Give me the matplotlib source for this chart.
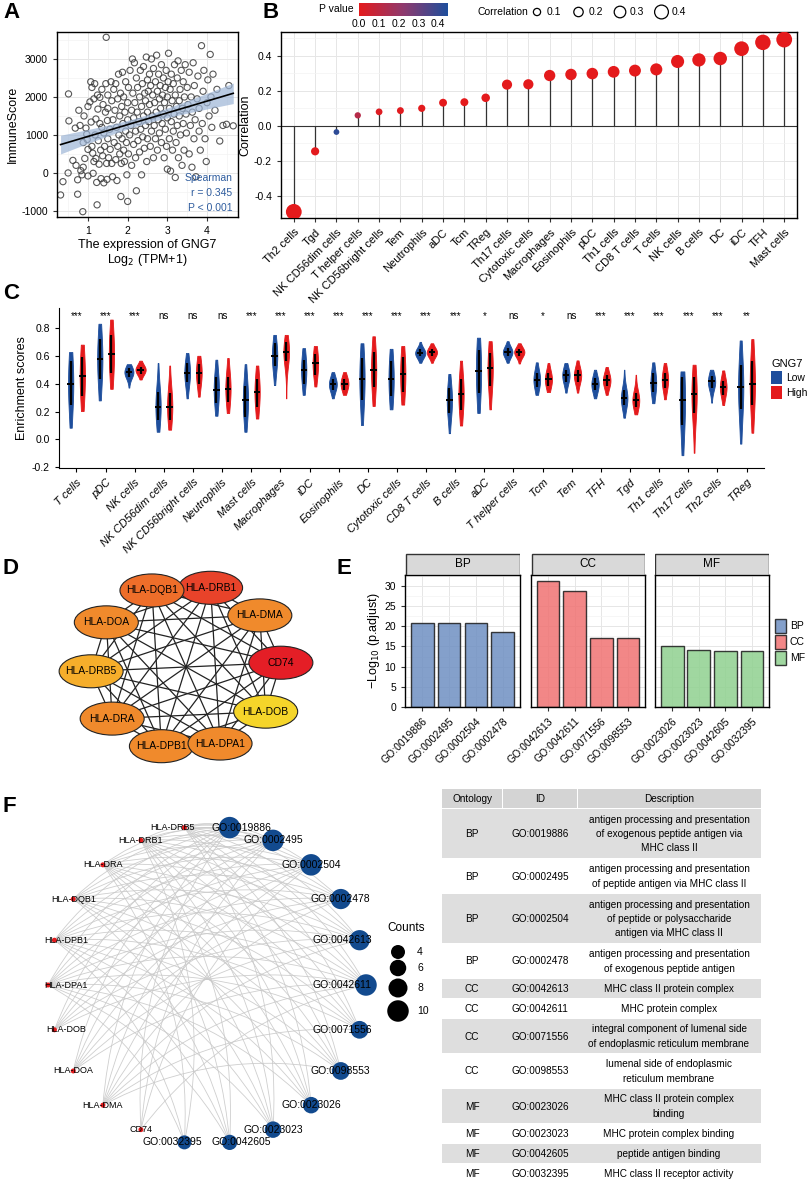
import numpy as np
import matplotlib.pyplot as plt
from matplotlib.colors import LinearSegmentedColormap
from matplotlib.patches import Ellipse, Rectangle, Patch, PathPatch
from matplotlib.path import Path

plt.rcParams['font.family'] = ['Liberation Sans', 'DejaVu Sans']
plt.rcParams['axes.unicode_minus'] = False
plt.rcParams['font.size'] = 7.5

W, H = 809, 1180

# ---------------- data ----------------
# A: GNG7 expression vs ImmuneScore
a_points = [
    (0.31, -580), (0.37, -230), (0.50, 0), (0.51, 2080), (0.52, 1370), (0.62, 330), (0.68, 1180),
    (0.70, 200), (0.74, -180), (0.74, -560), (0.77, 1650), (0.80, 1250), (0.82, 60), (0.85, -50),
    (0.87, -1020), (0.88, 800), (0.88, 150), (0.90, 1500), (0.92, 380), (0.95, 1180), (0.97, 1020),
    (0.98, 880), (1.00, 620), (1.00, -80), (1.00, 1750),
    (1.05, 1870), (1.07, 2400), (1.08, 1340), (1.10, 2250), (1.10, 700), (1.12, 520), (1.13, -10),
    (1.15, 1950), (1.15, 300), (1.17, 2350), (1.18, 1000), (1.20, 1420), (1.20, 380), (1.22, -250),
    (1.23, -840), (1.24, 2050), (1.25, 1680), (1.26, 850), (1.28, 230), (1.30, 1300), (1.30, 1990),
    (1.32, 600), (1.33, -150), (1.35, 1200), (1.35, 2200), (1.37, 450), (1.38, 1800), (1.40, -260),
    (1.40, 1050), (1.42, 700), (1.44, 1600), (1.45, 2350), (1.46, 3570), (1.47, 250), (1.48, -170),
    (1.49, 1380), (1.50, 900), (1.50, 2050), (1.50, 1700), (1.52, 400),
    (1.55, 1150), (1.56, 620), (1.58, 2400), (1.60, 1900), (1.60, 250), (1.62, -100), (1.63, 1400),
    (1.65, 2200), (1.66, 800), (1.68, 1650), (1.70, 350), (1.70, 2350), (1.72, 1200), (1.73, -200),
    (1.75, 1950), (1.75, 700), (1.77, 2600), (1.78, 1000), (1.80, 500), (1.80, 1500), (1.82, 2100),
    (1.83, -620), (1.84, 250), (1.85, 1750), (1.86, 900), (1.87, 2650), (1.88, 1300), (1.90, 600),
    (1.90, 2000), (1.92, 300), (1.93, 1600), (1.95, 1100), (1.95, 2400), (1.97, 800), (1.98, -50),
    (2.00, 1400), (2.00, -750), (2.00, 1850), (2.02, 2250), (2.02, 500),
    (2.05, 1000), (2.06, 2700), (2.08, 1250), (2.10, 1650), (2.10, 200), (2.12, 3000), (2.13, 2100),
    (2.15, 750), (2.15, 1450), (2.17, 2900), (2.18, 1850), (2.20, 400), (2.20, 1100), (2.22, -470),
    (2.22, 2500), (2.24, 1600), (2.25, 2250), (2.26, 850), (2.28, 1350), (2.30, 2000), (2.30, 550),
    (2.32, 2700), (2.33, 1150), (2.35, 1750), (2.35, -50), (2.37, 2350), (2.38, 950), (2.40, 1500),
    (2.40, 2800), (2.42, 650), (2.43, 2100), (2.45, 1250), (2.45, 1900), (2.47, 3050), (2.48, 300),
    (2.50, 1600), (2.50, 2450), (2.50, 900), (2.52, 2150), (2.53, 1350),
    (2.55, 1800), (2.55, 2600), (2.57, 700), (2.58, 2300), (2.60, 1100), (2.60, 3000), (2.62, 1500),
    (2.63, 2050), (2.65, 400), (2.65, 2750), (2.67, 1250), (2.68, 1850), (2.70, 2400), (2.70, 900),
    (2.72, 1600), (2.73, 3100), (2.75, 2150), (2.75, 600), (2.77, 1400), (2.78, 2600), (2.80, 1950),
    (2.80, 1050), (2.82, 2300), (2.83, 1700), (2.85, 2850), (2.85, 800), (2.87, 1300), (2.88, 2050),
    (2.90, 1550), (2.90, 2500), (2.92, 400), (2.93, 1850), (2.95, 1150), (2.95, 2250), (2.97, 2700),
    (2.98, 700), (3.00, 1450), (3.00, 2000), (3.00, 100), (3.02, 2400),
    (3.03, 3150), (3.05, 1700), (3.05, 900), (3.07, 2200), (3.08, 50), (3.10, 1350), (3.10, 2600),
    (3.12, 1900), (3.13, 600), (3.15, 2350), (3.15, 1100), (3.17, 1550), (3.18, 2850), (3.20, -120),
    (3.20, 2050), (3.22, 800), (3.23, 1750), (3.25, 2500), (3.25, 1250), (3.27, 2950), (3.28, 400),
    (3.30, 1900), (3.30, 1500), (3.32, 2200), (3.33, 1000), (3.35, 2700), (3.37, 200), (3.38, 1700),
    (3.40, 2400), (3.40, 1300), (3.42, 600), (3.43, 2000), (3.45, 2850), (3.47, 1550), (3.48, 1050),
    (3.50, 2250),
    (3.52, 1800), (3.55, 500), (3.55, 2650), (3.58, 1250), (3.60, 2000), (3.62, 150), (3.63, 1600),
    (3.65, 2900), (3.67, 900), (3.68, 2300), (3.70, 1400), (3.72, -100), (3.75, 1950), (3.77, 2550),
    (3.80, 1100), (3.80, 1700), (3.83, 600), (3.86, 3350), (3.88, 1300), (3.90, 2150), (3.92, 2700),
    (3.95, 900), (3.98, 300), (4.00, 1850), (4.02, 2450), (4.05, 1500), (4.08, 3120), (4.10, 2000),
    (4.12, 1200), (4.15, 2600), (4.20, 1650), (4.25, 2200), (4.32, 840), (4.40, 1250), (4.49, 1280),
    (4.55, 2300), (4.66, 1240),
]

# B: lollipop of correlations
b_cells = ['Th2 cells', 'Tgd', 'NK CD56dim cells', 'T helper cells', 'NK CD56bright cells', 'Tem',
           'Neutrophils', 'aDC', 'Tcm', 'TReg', 'Th17 cells', 'Cytotoxic cells', 'Macrophages',
           'Eosinophils', 'pDC', 'Th1 cells', 'CD8 T cells', 'T cells', 'NK cells', 'B cells', 'DC',
           'iDC', 'TFH', 'Mast cells']
b_corr = [-0.49, -0.145, -0.035, 0.06, 0.08, 0.087, 0.10, 0.132, 0.135, 0.16, 0.235, 0.237, 0.287,
          0.293, 0.298, 0.308, 0.315, 0.322, 0.367, 0.376, 0.384, 0.44, 0.476, 0.492]
b_pval = [0.0, 0.002, 0.42, 0.12, 0.02, 0.01, 0.005, 0.0, 0.0, 0.0, 0.0, 0.0, 0.0, 0.0, 0.0, 0.0,
          0.0, 0.0, 0.0, 0.0, 0.0, 0.0, 0.0, 0.0]

# C: enrichment scores by GNG7 group (min, q1, median, q3, max)
c_cells = ['T cells', 'pDC', 'NK cells', 'NK CD56dim cells', 'NK CD56bright cells', 'Neutrophils',
           'Mast cells', 'Macrophages', 'iDC', 'Eosinophils', 'DC', 'Cytotoxic cells', 'CD8 T cells',
           'B cells', 'aDC', 'T helper cells', 'Tcm', 'Tem', 'TFH', 'Tgd', 'Th1 cells', 'Th17 cells',
           'Th2 cells', 'TReg']
c_signif = ['***', '***', '***', 'ns', 'ns', 'ns', '***', '***', '***', '***', '***', '***', '***',
            '***', '*', 'ns', '*', 'ns', '***', '***', '***', '***', '***', '**']
low_min = [.084, .28, .372, .055, .295, .17, .055, .39, .32, .295, .103, .216, .55, .045, .19, .55,
           .32, .336, .295, .156, .26, -.113, .264, -.03]
low_q1 = [.25, .435, .45, .14, .41, .26, .16, .53, .40, .355, .28, .31, .60, .19, .33, .60, .375, .415,
          .355, .25, .34, .10, .37, .22]
low_med = [.40, .577, .483, .235, .48, .358, .28, .60, .50, .396, .435, .435, .62, .28, .49, .627,
           .428, .46, .396, .295, .404, .28, .416, .375]
low_q3 = [.56, .72, .51, .34, .55, .45, .38, .69, .57, .43, .585, .56, .65, .37, .645, .655, .475, .50,
          .44, .355, .475, .45, .455, .535]
low_max = [.627, .83, .54, .548, .62, .572, .54, .75, .655, .483, .69, .65, .70, .47, .73, .705, .553,
           .548, .50, .50, .553, .488, .50, .71]
high_min = [.204, .363, .43, .07, .307, .19, .15, .295, .38, .32, .24, .25, .55, .10, .216, .545, .34,
            .336, .32, .18, .288, -.096, .247, .048]
high_q1 = [.31, .48, .47, .14, .40, .265, .235, .56, .46, .355, .375, .34, .60, .21, .38, .60, .385,
           .415, .385, .235, .37, .19, .32, .25]
high_med = [.454, .615, .50, .235, .48, .363, .34, .63, .545, .40, .50, .468, .625, .325, .51, .627,
            .43, .46, .423, .28, .428, .325, .375, .40]
high_q3 = [.59, .75, .52, .33, .54, .445, .43, .70, .61, .43, .63, .59, .65, .43, .62, .65, .475, .50,
           .465, .33, .48, .45, .42, .56]
high_max = [.68, .86, .565, .53, .60, .584, .53, .75, .67, .483, .74, .67, .69, .565, .705, .69, .548,
            .567, .52, .464, .548, .536, .495, .72]

# D: PPI network
d_genes = ['CD74', 'HLA-DMA', 'HLA-DRB1', 'HLA-DQB1', 'HLA-DOA', 'HLA-DRB5', 'HLA-DRA', 'HLA-DPB1',
           'HLA-DPA1', 'HLA-DOB']
d_colors = ['#E41E26', '#F08A2C', '#E8432A', '#EE6E2A', '#F08A2C', '#F6AE2B', '#F08A2C', '#F08A2C',
            '#F08A2C', '#F5D52A']

# E: GO enrichment
e_ont = ['BP', 'CC', 'MF']
e_ids = [['GO:0019886', 'GO:0002495', 'GO:0002504', 'GO:0002478'],
         ['GO:0042613', 'GO:0042611', 'GO:0071556', 'GO:0098553'],
         ['GO:0023026', 'GO:0023023', 'GO:0042605', 'GO:0032395']]
e_logp = [[20.9, 20.9, 20.9, 18.6],
          [31.1, 28.7, 17.2, 17.2],
          [15.2, 14.2, 13.8, 13.8]]
e_colors = ['#6E8FC2', '#F07272', '#8FD18F']

# F: gene-GO network + table
f_go = ['GO:0019886', 'GO:0002495', 'GO:0002504', 'GO:0002478', 'GO:0042613', 'GO:0042611',
        'GO:0071556', 'GO:0098553', 'GO:0023026', 'GO:0023023', 'GO:0042605', 'GO:0032395']
f_counts = [10, 10, 10, 9, 9, 10, 7, 7, 6, 6, 5, 4]
f_gene_rank = ['HLA-DRA', 'HLA-DRB1', 'HLA-DPA1', 'HLA-DPB1', 'HLA-DQB1', 'HLA-DRB5', 'HLA-DMA',
               'HLA-DOA', 'HLA-DOB', 'CD74']
gene_ring = ['CD74', 'HLA-DMA', 'HLA-DOA', 'HLA-DOB', 'HLA-DPA1', 'HLA-DPB1', 'HLA-DQB1', 'HLA-DRA',
             'HLA-DRB1', 'HLA-DRB5']
t_ont = ['BP', 'BP', 'BP', 'BP', 'CC', 'CC', 'CC', 'CC', 'MF', 'MF', 'MF', 'MF']
t_desc = ['antigen processing and presentation\nof exogenous peptide antigen via\nMHC class II',
          'antigen processing and presentation\nof peptide antigen via MHC class II',
          'antigen processing and presentation\nof peptide or polysaccharide\nantigen via MHC class II',
          'antigen processing and presentation\nof exogenous peptide antigen',
          'MHC class II protein complex',
          'MHC protein complex',
          'integral component of lumenal side\nof endoplasmic reticulum membrane',
          'lumenal side of endoplasmic\nreticulum membrane',
          'MHC class II protein complex\nbinding',
          'MHC protein complex binding',
          'peptide antigen binding',
          'MHC class II receptor activity']

fig = plt.figure(figsize=(W / 100, H / 100), dpi=100)


def px_axes(x0, y0, x1, y1):
    return fig.add_axes([x0 / W, 1 - y1 / H, (x1 - x0) / W, (y1 - y0) / H])


def canvas(x0, y0, x1, y1):
    # axes in pixel units, y pointing down
    ax = px_axes(x0, y0, x1, y1)
    ax.set_xlim(x0, x1)
    ax.set_ylim(y1, y0)
    ax.axis('off')
    return ax


def theme_bw(ax):
    ax.set_facecolor('white')
    ax.grid(True, which='major', color='#E6E6E6', lw=0.7, zorder=0)
    ax.grid(True, which='minor', color='#F3F3F3', lw=0.5, zorder=0)
    ax.set_axisbelow(True)
    for s in ax.spines.values():
        s.set_color('black')
        s.set_linewidth(1.0)
    ax.tick_params(which='major', length=3, color='#333333', labelsize=7.5, labelcolor='black')
    ax.tick_params(which='minor', length=0)


def panel_label(x, y, s):
    fig.text(x / W, 1 - y / H, s, fontsize=16, fontweight='bold', ha='left', va='top')


def dot_diam(r):
    return 5 + 22 * np.abs(r)


# ---------------- A ----------------
ax_x = np.array([p[0] for p in a_points])
ax_y = np.array([p[1] for p in a_points])
axA = px_axes(57, 32, 238, 217)
theme_bw(axA)
axA.scatter(ax_x, ax_y, s=20, facecolors='none', edgecolors='#3a3a3a', linewidths=0.8, alpha=0.85, zorder=2)
k, b = np.polyfit(ax_x, ax_y, 1)
xs = np.linspace(ax_x.min(), ax_x.max(), 100)
resid = ax_y - (k * ax_x + b)
mse = np.sum(resid ** 2) / (len(ax_x) - 2)
se = np.sqrt(mse * (1 / len(ax_x) + (xs - ax_x.mean()) ** 2 / np.sum((ax_x - ax_x.mean()) ** 2)))
axA.fill_between(xs, k * xs + b - 1.96 * se, k * xs + b + 1.96 * se, color='#9DB5D6', alpha=0.7, lw=0, zorder=3)
axA.plot(xs, k * xs + b, color='black', lw=1.2, zorder=4)
axA.set_xlim(0.22, 4.78)
axA.set_ylim(-1160, 3710)
axA.set_xticks([1, 2, 3, 4])
axA.set_xticks([0.5, 1.5, 2.5, 3.5, 4.5], minor=True)
axA.set_yticks([-1000, 0, 1000, 2000, 3000])
axA.set_yticks([-500, 500, 1500, 2500, 3500], minor=True)
axA.set_xlabel('The expression of GNG7\nLog$_2$ (TPM+1)', fontsize=9, labelpad=2, linespacing=1.1)
axA.set_ylabel('ImmuneScore', fontsize=9, labelpad=2)
for yy, s in [(0.21, 'Spearman'), (0.13, 'r = 0.345'), (0.05, 'P < 0.001')]:
    axA.text(0.97, yy, s, transform=axA.transAxes, ha='right', va='center', color='#2E5C9E', fontsize=7.5)
panel_label(3, 2, 'A')

# ---------------- B ----------------
cmap = LinearSegmentedColormap.from_list('pv', ['#E41A1C', '#8E3A6E', '#1E4E9C'])
axB = px_axes(281, 32, 797, 218)
theme_bw(axB)
xb = np.arange(len(b_cells))
axB.axhline(0, color='#333333', lw=0.8, zorder=1)
axB.vlines(xb, 0, b_corr, color='#333333', lw=0.9, zorder=2)
sc = axB.scatter(xb, b_corr, s=(dot_diam(b_corr) * 0.72) ** 2, c=b_pval, cmap=cmap, vmin=0, vmax=0.45,
                 edgecolors='none', zorder=3)
axB.set_xlim(-0.6, len(b_cells) - 0.4)
axB.set_ylim(-0.525, 0.535)
axB.set_xticks(xb)
axB.set_xticklabels(b_cells, rotation=45, ha='right', rotation_mode='anchor', fontsize=8)
axB.set_yticks([-0.4, -0.2, 0.0, 0.2, 0.4])
axB.set_yticklabels(['-0.4', '-0.2', '0.0', '0.2', '0.4'])
axB.set_yticks([-0.5, -0.3, -0.1, 0.1, 0.3, 0.5], minor=True)
axB.set_ylabel('Correlation', fontsize=9, labelpad=2)
cax = px_axes(359, 3, 448, 16)
cb = fig.colorbar(sc, cax=cax, orientation='horizontal')
cb.set_ticks([0, 0.1, 0.2, 0.3, 0.4])
cb.set_ticklabels(['0.0', '0.1', '0.2', '0.3', '0.4'])
cb.outline.set_visible(False)
cax.tick_params(length=0, labelsize=7.5, pad=2)
fig.text(336 / W, 1 - 9 / H, 'P value', ha='center', va='center', fontsize=7.5)
fig.text(477 / W, 1 - 12 / H, 'Correlation', ha='left', va='center', fontsize=7.5)
legB = canvas(528, 0, 700, 25)
for i, v in enumerate([0.1, 0.2, 0.3, 0.4]):
    cx = 537 + i * 41.5
    legB.scatter([cx], [12], s=(dot_diam(v) * 0.72) ** 2, facecolors='none', edgecolors='black', linewidths=0.9)
    legB.text(cx + 10, 12, f'{v:.1f}', ha='left', va='center', fontsize=7.5)
panel_label(262, 2, 'B')

# ---------------- C ----------------
axC = px_axes(59, 308, 764, 468)
xc = np.arange(len(c_cells))


def vstats(vmin, q1, med, q3, vmax):
    ys = np.linspace(vmin, vmax, 120)
    s = max((q3 - q1) / 1.35, 0.01)
    dens = np.exp(-0.5 * ((ys - med) / s) ** 2) + 0.05
    return dict(coords=ys, vals=dens, mean=med, median=med, min=vmin, max=vmax)


for grp, col, off, mn, q1, md, q3, mx in [
        ('Low', '#1E4E9C', -0.2, low_min, low_q1, low_med, low_q3, low_max),
        ('High', '#E41A1C', 0.2, high_min, high_q1, high_med, high_q3, high_max)]:
    stats = [vstats(mn[i], q1[i], md[i], q3[i], mx[i]) for i in range(len(c_cells))]
    widths = [float(np.clip(0.11 + 0.012 / (q3[i] - q1[i]), 0.18, 0.42)) for i in range(len(c_cells))]
    parts = axC.violin(stats, positions=xc + off, widths=widths, showmeans=False,
                       showextrema=False, showmedians=False)
    for body in parts['bodies']:
        body.set_facecolor(col)
        body.set_edgecolor(col)
        body.set_alpha(1)
        body.set_linewidth(0.6)
    axC.vlines(xc + off, q1, q3, color='black', lw=1.6, zorder=3)
    axC.hlines(md, xc + off - 0.11, xc + off + 0.11, color='black', lw=1.4, zorder=3)
for i, s in enumerate(c_signif):
    axC.text(xc[i], 0.885, s, ha='center', va='center', fontsize=7)
axC.set_xlim(-0.6, len(c_cells) - 0.4)
axC.set_ylim(-0.205, 0.943)
axC.set_yticks([-0.2, 0.0, 0.2, 0.4, 0.6, 0.8])
axC.set_yticklabels(['-0.2', '0.0', '0.2', '0.4', '0.6', '0.8'])
axC.set_xticks(xc)
axC.set_xticklabels(c_cells, rotation=45, ha='right', rotation_mode='anchor', fontsize=8, style='italic')
axC.spines['top'].set_visible(False)
axC.spines['right'].set_visible(False)
axC.tick_params(length=3, labelsize=7.5)
axC.tick_params(axis='x', labelsize=8)
axC.set_ylabel('Enrichment scores', fontsize=9, labelpad=3)
fig.legend(handles=[Patch(facecolor='#1E4E9C', label='Low'), Patch(facecolor='#E41A1C', label='High')],
           title='GNG7', loc='upper left', bbox_to_anchor=(764 / W, 1 - 352 / H), frameon=False,
           fontsize=7.5, title_fontsize=8, handlelength=1.0, handleheight=1.5, handletextpad=0.4,
           alignment='left', borderpad=0.2, labelspacing=0.2)
panel_label(3, 283, 'C')

# ---------------- D ----------------
axD = canvas(40, 565, 330, 775)
cxD, cyD, rxD, ryD = 186, 667, 95, 82
angD = np.deg2rad(3 + np.arange(len(d_genes)) * 36.0)
pxD = cxD + rxD * np.cos(angD)
pyD = cyD - ryD * np.sin(angD)
for i in range(len(d_genes)):
    for j in range(i + 1, len(d_genes)):
        axD.plot([pxD[i], pxD[j]], [pyD[i], pyD[j]], color='#222222', lw=0.9, zorder=1)
for i, g in enumerate(d_genes):
    axD.add_patch(Ellipse((pxD[i], pyD[i]), 64, 33, facecolor=d_colors[i], edgecolor='#222222', lw=0.8, zorder=2))
    axD.text(pxD[i], pyD[i], g, ha='center', va='center', fontsize=7.5, zorder=3)
panel_label(3, 558, 'D')

# ---------------- E ----------------
facet_x = [(405, 520), (531, 645), (655, 769)]
for k_, (x0, x1) in enumerate(facet_x):
    ax = px_axes(x0, 575, x1, 707)
    theme_bw(ax)
    pos = np.arange(4)
    ax.bar(pos, e_logp[k_], width=0.85, color=e_colors[k_], alpha=0.85, edgecolor='#1a1a1a', lw=1.0, zorder=2)
    ax.set_xlim(-0.65, 3.65)
    ax.set_ylim(0, 32.7)
    ax.set_xticks(pos)
    ax.set_xticklabels(e_ids[k_], rotation=45, ha='right', rotation_mode='anchor', fontsize=7.5)
    ax.set_yticks([0, 5, 10, 15, 20, 25, 30])
    ax.set_yticks([2.5, 7.5, 12.5, 17.5, 22.5, 27.5, 32.5], minor=True)
    if k_ == 0:
        ax.set_ylabel('\u2212Log$_{10}$ (p.adjust)', fontsize=9, labelpad=2)
    else:
        ax.tick_params(axis='y', which='both', left=False, labelleft=False)
    strip = canvas(x0, 553, x1, 575)
    strip.add_patch(Rectangle((x0 + 0.5, 553.5), x1 - x0 - 1, 21, facecolor='#D9D9D9', edgecolor='#333333', lw=1.0))
    strip.text((x0 + x1) / 2, 564, e_ont[k_], ha='center', va='center', fontsize=8.5)
fig.legend(handles=[Patch(facecolor=c, alpha=0.85, edgecolor='#1a1a1a', label=o) for c, o in zip(e_colors, e_ont)],
           loc='upper left', bbox_to_anchor=(770 / W, 1 - 614 / H), frameon=False, fontsize=7.5,
           handlelength=1.0, handleheight=1.6, handletextpad=0.4, borderpad=0, labelspacing=0.25)
panel_label(337, 558, 'E')

# ---------------- F network ----------------
axF = canvas(0, 790, 440, 1180)
cxF, cyF, RF = 207, 985, 159
nF = len(f_go) + len(gene_ring)
angF = np.deg2rad(90 - 180.0 / nF - 360.0 / nF * np.arange(nF))
nodeX = cxF + RF * np.cos(angF)
nodeY = cyF - RF * np.sin(angF)
gene_idx = {g: len(f_go) + i for i, g in enumerate(gene_ring)}
for gi, cnt in enumerate(f_counts):
    for g in f_gene_rank[:cnt]:
        j = gene_idx[g]
        p0 = np.array([nodeX[gi], nodeY[gi]])
        p1 = np.array([nodeX[j], nodeY[j]])
        mid = (p0 + p1) / 2
        d = p1 - p0
        perp = np.array([-d[1], d[0]])
        ctrl = mid + 0.18 * perp
        path = Path([p0, ctrl, p1], [Path.MOVETO, Path.CURVE3, Path.CURVE3])
        axF.add_patch(PathPatch(path, facecolor='none', edgecolor='#C9C9C9', lw=0.6, alpha=0.9, zorder=1))
goDiam = 9 + 1.25 * np.array(f_counts)
axF.scatter(nodeX[:len(f_go)], nodeY[:len(f_go)], s=(goDiam * 0.72) ** 2, color='#124A8E', zorder=2, edgecolors='none')
axF.scatter(nodeX[len(f_go):], nodeY[len(f_go):], s=(5 * 0.72) ** 2, color='#E41A1C', zorder=2, edgecolors='none')
for i in range(nF):
    label = f_go[i] if i < len(f_go) else gene_ring[i - len(f_go)]
    fs = 7.5 if i < len(f_go) else 6.5
    # push labels of the nodes closest to the vertical axis sideways so they don't collide
    shift = 12 * np.sign(np.cos(angF[i])) if abs(np.sin(angF[i])) > 0.95 else 0
    tx = float(np.clip(nodeX[i] + shift, 66, 342))
    axF.text(tx, nodeY[i], label, ha='center', va='center', fontsize=fs, zorder=3)
axF.text(387, 928, 'Counts', ha='left', va='center', fontsize=8.5)
for i, c in enumerate([4, 6, 8, 10]):
    yy = [952, 968, 988, 1011][i]
    axF.scatter([398], [yy], s=((9 + 1.25 * c) * 0.72) ** 2, color='black', edgecolors='none')
    axF.text(417, yy, str(c), ha='left', va='center', fontsize=7.5)
panel_label(3, 796, 'F')

# ---------------- F table ----------------
axT = canvas(440, 785, 809, 1180)
cols = [(442, 502), (503, 577), (578, 761)]
for (x0, x1), s in zip(cols, ['Ontology', 'ID', 'Description']):
    axT.add_patch(Rectangle((x0, 789), x1 - x0, 19, facecolor='#D4D4D4', edgecolor='none'))
    axT.text((x0 + x1) / 2, 798.5, s, ha='center', va='center', fontsize=7.2)
ytop = 809
for r in range(len(t_desc)):
    nlines = t_desc[r].count('\n') + 1
    h = 5 + 15 * nlines
    if r % 2 == 0:
        axT.add_patch(Rectangle((442, ytop), 761 - 442, h - 1, facecolor='#DEDEDE', edgecolor='none'))
    yc = ytop + h / 2
    axT.text(472, yc, t_ont[r], ha='center', va='center', fontsize=7.2)
    axT.text(540, yc, f_go[r], ha='center', va='center', fontsize=7.2)
    axT.text(669, yc, t_desc[r], ha='center', va='center', fontsize=7.2, linespacing=1.55)
    ytop += h

fig.savefig('out.png', dpi=100)
